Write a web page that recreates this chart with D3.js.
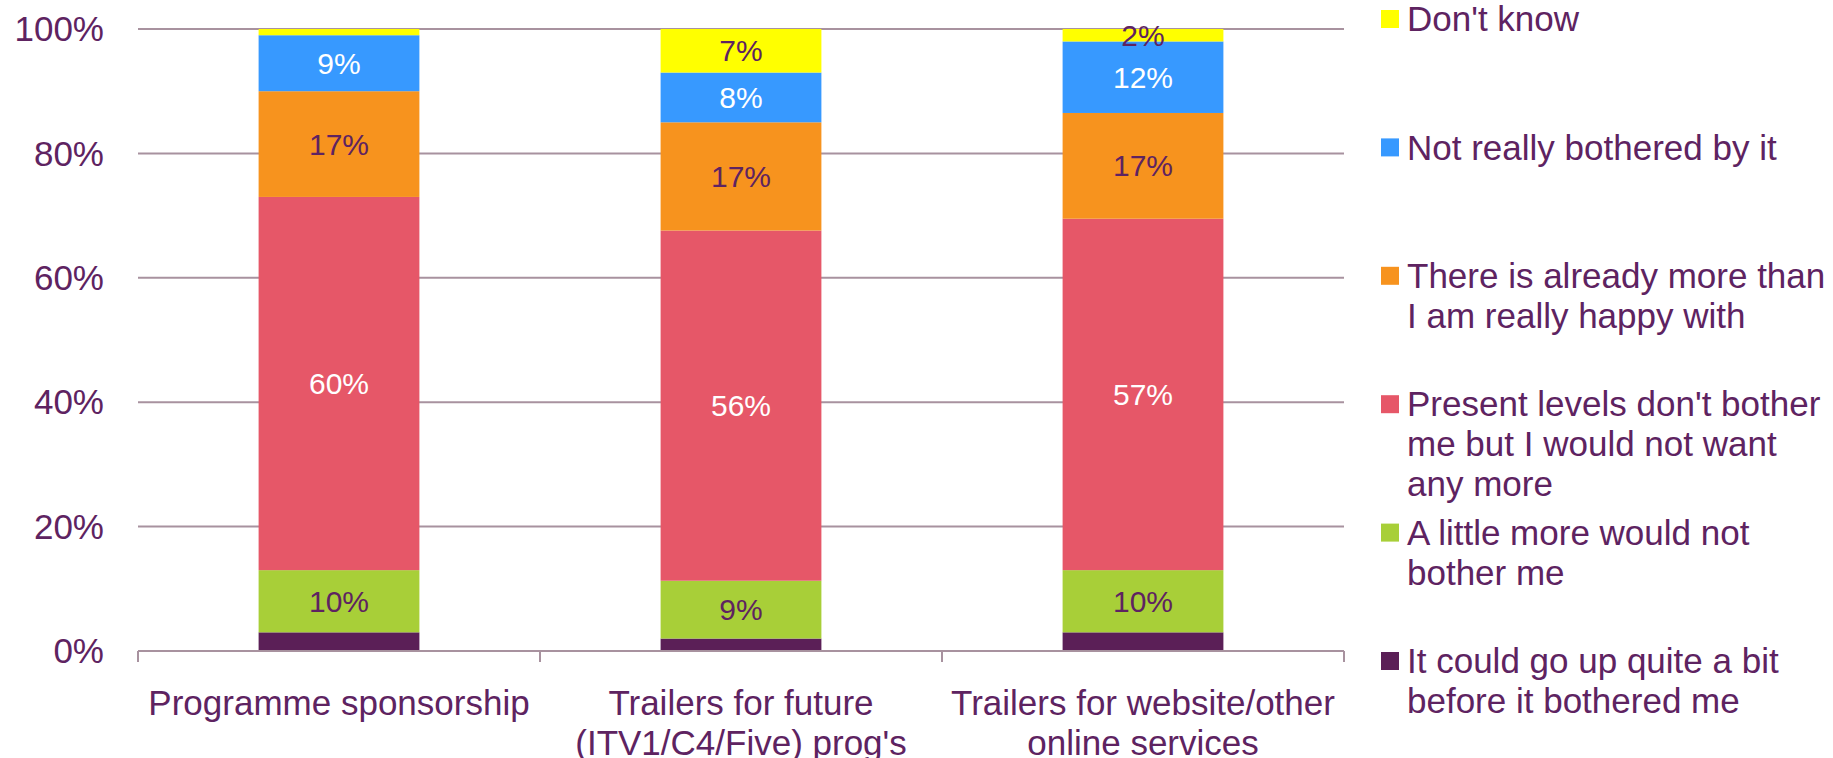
<!DOCTYPE html>
<html>
<head>
<meta charset="utf-8">
<script src="https://cdn.jsdelivr.net/npm/d3@7"></script>
<style>
  body { margin: 0; background: #fff; }
  text { font-family: "Liberation Sans", Arial, sans-serif; fill: #5e2361; }
  .grid line { stroke: #a8929f; stroke-width: 2; }
</style>
</head>
<body>
<svg id="myGraph" width="1833" height="758"></svg>
<script>
// categories (lines split with \n)
var categories = [
  "Programme sponsorship",
  "Trailers for future\n(ITV1/C4/Five) prog's",
  "Trailers for website/other\nonline services"
];

// series, bottom to top
var seriesNames = [
  "It could go up quite a bit\nbefore it bothered me",
  "A little more would not\nbother me",
  "Present levels don't bother\nme but I would not want\nany more",
  "There is already more than\nI am really happy with",
  "Not really bothered by it",
  "Don't know"
];
var upQuiteABit = [3, 2, 3];
var littleMore = [10, 9.3, 10];
var presentLevels = [60, 56.3, 56.5];
var alreadyMore = [17, 17.4, 17];
var notBothered = [9, 8, 11.5];
var dontKnow = [1, 7, 2];

var yTicks = [0, 20, 40, 60, 80, 100];

var colors = ["#5b1f57", "#a8cf38", "#e65768", "#f7931e", "#3799ff", "#ffff00"];
var labelColors = [null, "#5e2361", "#ffffff", "#5e2361", "#ffffff", "#5e2361"];

var seriesValues = [upQuiteABit, littleMore, presentLevels, alreadyMore, notBothered, dontKnow];
var rows = categories.map(function (c, i) {
  var r = { cat: c };
  seriesValues.forEach(function (vals, k) { r[k] = vals[i]; });
  return r;
});
var keys = seriesValues.map(function (d, k) { return k; });
var stacked = d3.stack().keys(keys)(rows);

var svg = d3.select("#myGraph");

// plot area
var plotLeft = 138, plotRight = 1344, plotTop = 29, plotBottom = 651;

var x = d3.scaleBand().domain(categories).range([plotLeft, plotRight]).paddingInner(0.6).paddingOuter(0.3);
var y = d3.scaleLinear().domain([0, 100]).range([plotBottom, plotTop]);

// grid lines
svg.append("g")
  .attr("class", "grid")
  .selectAll("line")
  .data(yTicks.filter(function (d) { return d > 0; }))
  .enter()
  .append("line")
  .attr("x1", plotLeft)
  .attr("x2", plotRight)
  .attr("y1", function (d) { return y(d); })
  .attr("y2", function (d) { return y(d); });

// axis y labels
svg.append("g")
  .selectAll("text")
  .data(yTicks)
  .enter()
  .append("text")
  .attr("x", 104)
  .attr("y", function (d) { return y(d); })
  .attr("dy", "0.35em")
  .attr("text-anchor", "end")
  .style("font-size", "35px")
  .text(function (d) { return d + "%"; });

// bars
var layers = svg.selectAll(".layer")
  .data(stacked)
  .enter()
  .append("g")
  .attr("class", "layer")
  .attr("fill", function (d) { return colors[d.key]; });

layers.selectAll("rect")
  .data(function (d) { return d; })
  .enter()
  .append("rect")
  .attr("x", function (d) { return x(d.data.cat); })
  .attr("width", x.bandwidth())
  .attr("y", function (d) { return y(d[1]); })
  .attr("height", function (d) { return y(d[0]) - y(d[1]); });

// bar value labels
layers.each(function (layer) {
  var k = layer.key;
  if (!labelColors[k]) return;
  d3.select(this).selectAll("text")
    .data(layer.filter(function (d) { return d[1] - d[0] >= 2; }))
    .enter()
    .append("text")
    .attr("x", function (d) { return x(d.data.cat) + x.bandwidth() / 2; })
    .attr("y", function (d) { return y((d[0] + d[1]) / 2); })
    .attr("dy", "0.35em")
    .attr("text-anchor", "middle")
    .style("font-size", "30px")
    .style("fill", labelColors[k])
    .text(function (d) { return Math.round(d[1] - d[0]) + "%"; });
});

// axis x
var axisX = svg.append("g").attr("class", "grid");
axisX.append("line")
  .attr("x1", plotLeft).attr("x2", plotRight)
  .attr("y1", plotBottom).attr("y2", plotBottom);
var step = x.step();
axisX.selectAll(".tick")
  .data(d3.range(categories.length + 1))
  .enter()
  .append("line")
  .attr("x1", function (i) { return plotLeft + i * step; })
  .attr("x2", function (i) { return plotLeft + i * step; })
  .attr("y1", plotBottom)
  .attr("y2", plotBottom + 11);

svg.append("g")
  .selectAll("text")
  .data(categories)
  .enter()
  .append("text")
  .attr("text-anchor", "middle")
  .style("font-size", "35px")
  .attr("transform", function (d) { return "translate(" + (x(d) + x.bandwidth() / 2) + ",703)"; })
  .each(function (d) {
    d3.select(this).selectAll("tspan")
      .data(d.split("\n"))
      .enter()
      .append("tspan")
      .attr("x", 0)
      .attr("y", function (t, i) { return i * 40; })
      .attr("dy", "0.35em")
      .text(function (t) { return t; });
  });

// legend, top item = last series
var legendY = d3.scalePoint().domain(keys.slice().reverse()).range([19, 661]);
var legend = svg.selectAll(".legend")
  .data(keys)
  .enter()
  .append("g")
  .attr("class", "legend")
  .attr("transform", function (k) { return "translate(1381," + legendY(k) + ")"; });

legend.append("rect")
  .attr("x", 0)
  .attr("y", -9)
  .attr("width", 18)
  .attr("height", 18)
  .attr("fill", function (k) { return colors[k]; });

legend.append("text")
  .style("font-size", "35px")
  .each(function (k) {
    d3.select(this).selectAll("tspan")
      .data(seriesNames[k].split("\n"))
      .enter()
      .append("tspan")
      .attr("x", 26)
      .attr("y", function (t, i) { return i * 40; })
      .attr("dy", "0.35em")
      .text(function (t) { return t; });
  });
</script>
</body>
</html>
